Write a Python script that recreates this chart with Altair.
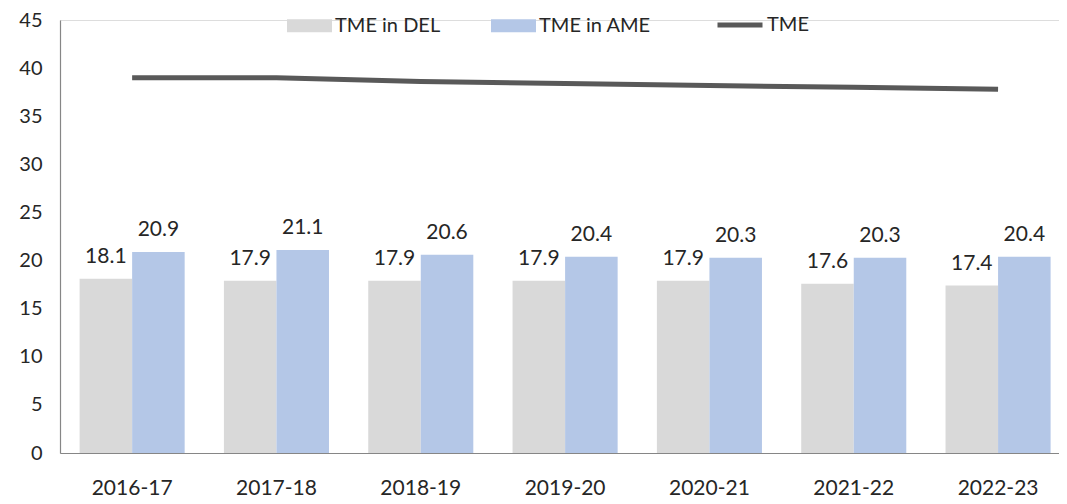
import altair as alt
import pandas as pd

years = ["2016-17", "2017-18", "2018-19", "2019-20", "2020-21", "2021-22", "2022-23"]
del_vals = [18.1, 17.9, 17.9, 17.9, 17.9, 17.6, 17.4]
ame_vals = [20.9, 21.1, 20.6, 20.4, 20.3, 20.3, 20.4]
tme_vals = [39.0, 39.0, 38.6, 38.4, 38.2, 38.0, 37.8]
series_names = ["TME in DEL", "TME in AME"]
line_name = "TME"

FONT = "Lato"
TXT = "#262626"

rows = []
for y, d, a in zip(years, del_vals, ame_vals):
    rows.append({"year": y, "series": series_names[0], "value": d})
    rows.append({"year": y, "series": series_names[1], "value": a})
bars_df = pd.DataFrame(rows)
line_df = pd.DataFrame({"year": years, "value": tme_vals, "name": [line_name] * len(years)})

xscale = alt.Scale(domain=years, paddingInner=0.272, paddingOuter=0.097, align=0.7)
yscale = alt.Scale(domain=[0, 45], nice=False)

x_enc = alt.X("year:N", scale=xscale, sort=years, title=None,
              axis=alt.Axis(labelAngle=0, ticks=False, domainColor="#868686", domainWidth=1.2,
                            labelFont=FONT, labelFontSize=21, labelColor=TXT, labelPadding=24))
y_enc = alt.Y("value:Q", scale=yscale, title=None,
              axis=alt.Axis(values=list(range(0, 50, 5)), ticks=False, grid=False,
                            domainColor="#868686", domainWidth=1.2,
                            labelFont=FONT, labelFontSize=20, labelColor=TXT, labelPadding=18))

bars = alt.Chart(bars_df).mark_bar().encode(
    x=x_enc,
    xOffset=alt.XOffset("series:N", sort=series_names, scale=alt.Scale(paddingInner=0, paddingOuter=0)),
    y=y_enc,
    color=alt.Color("series:N", sort=series_names,
                    scale=alt.Scale(domain=series_names, range=["#d9d9d9", "#b4c7e7"]),
                    legend=alt.Legend(title=None, orient="none", legendX=227, legendY=-17,
                                      direction="horizontal", symbolType="M-1,-0.29H1V0.29H-1Z",
                                      symbolSize=2025, symbolStrokeWidth=0, symbolOpacity=1,
                                      labelFont=FONT, labelFontSize=20, labelColor=TXT,
                                      labelOffset=3, columnPadding=50, padding=0)),
)

labels = alt.Chart(bars_df).mark_text(baseline="bottom", dy=-12, font=FONT, fontSize=21, color=TXT).encode(
    x=alt.X("year:N", scale=xscale, sort=years),
    xOffset=alt.XOffset("series:N", sort=series_names, scale=alt.Scale(paddingInner=0, paddingOuter=0)),
    y=alt.Y("value:Q", scale=yscale),
    text=alt.Text("value:Q", format=".1f"),
)

line = alt.Chart(line_df).mark_line(strokeWidth=5).encode(
    x=alt.X("year:N", scale=xscale, sort=years),
    y=alt.Y("value:Q", scale=yscale),
    stroke=alt.Stroke("name:N", scale=alt.Scale(domain=[line_name], range=["#595959"]),
                      legend=alt.Legend(title=None, orient="none", legendX=655, legendY=-20,
                                        direction="horizontal", symbolType="stroke",
                                        symbolSize=2025, symbolStrokeWidth=5,
                                        labelFont=FONT, labelFontSize=20, labelColor=TXT,
                                        labelOffset=2, padding=0)),
)

chart = alt.layer(bars, labels, line).properties(
    width=999, height=433,
    padding={"left": 52, "top": 12, "right": 0, "bottom": 50},
    autosize=alt.AutoSizeParams(type="none"),
).configure_view(stroke=None).configure(background="white")

chart.save("out.html", embed_options={"renderer": "svg", "actions": False})
